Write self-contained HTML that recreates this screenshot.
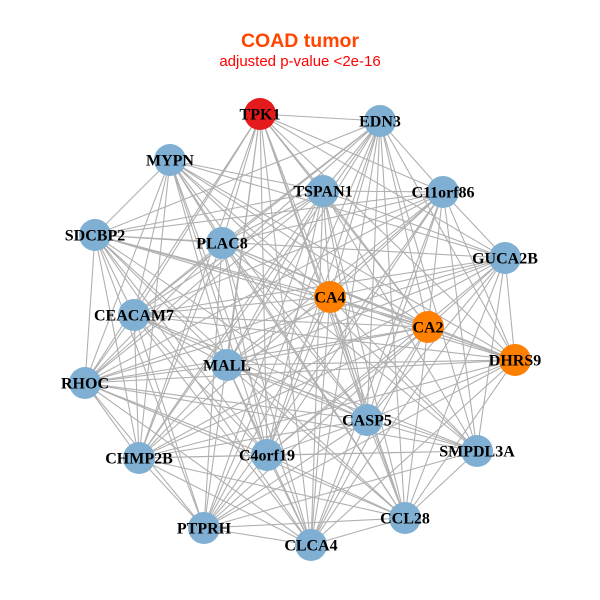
<!DOCTYPE html>
<html><head><meta charset="utf-8"><style>
html,body{margin:0;padding:0;background:#fff;}
svg{display:block;}
.l{font-family:"Liberation Serif",serif;font-weight:bold;font-size:16px;fill:#000;text-anchor:middle;}
</style></head><body>
<svg width="600" height="600" viewBox="0 0 600 600" xmlns="http://www.w3.org/2000/svg">
<rect width="600" height="600" fill="#fff"/>
<text x="300" y="47" text-anchor="middle" font-family="Liberation Sans, sans-serif" font-weight="bold" font-size="19.5" fill="#ff4500">COAD tumor</text>
<text x="300" y="66" text-anchor="middle" font-family="Liberation Sans, sans-serif" font-size="15" fill="#ff0000">adjusted p-value &lt;2e-16</text>
<g stroke="#b0b0b0" stroke-width="1.1" fill="none">
<path d="M260 114L380 121M260 114L323 191M260 114L443 192M260 114L222 243M260 114L505 258M260 114L330 297M260 114L134 315M260 114L515 360M260 114L227 365M260 114L85 383M260 114L367 420M260 114L139 458M260 114L267 455M260 114L405 518M260 114L204 528"/>
<path d="M380 121L323 191M380 121L443 192M380 121L95 235M380 121L222 243M380 121L330 297M380 121L134 315M380 121L428 327M380 121L515 360M380 121L85 383M380 121L367 420M380 121L477 451M380 121L139 458M380 121L405 518M380 121L204 528M380 121L311 545"/>
<path d="M170 160L323 191M170 160L95 235M170 160L222 243M170 160L505 258M170 160L330 297M170 160L428 327M170 160L515 360M170 160L227 365M170 160L85 383M170 160L477 451M170 160L139 458M170 160L267 455M170 160L405 518M170 160L311 545"/>
<path d="M323 191L443 192M323 191L95 235M323 191L505 258M323 191L330 297M323 191L134 315M323 191L428 327M323 191L227 365M323 191L85 383M323 191L367 420M323 191L477 451M323 191L267 455M323 191L405 518M323 191L204 528M323 191L311 545"/>
<path d="M443 192L95 235M443 192L222 243M443 192L505 258M443 192L134 315M443 192L428 327M443 192L515 360M443 192L227 365M443 192L367 420M443 192L477 451M443 192L139 458M443 192L267 455M443 192L204 528M443 192L311 545"/>
<path d="M95 235L222 243M95 235L505 258M95 235L330 297M95 235L134 315M95 235L515 360M95 235L227 365M95 235L85 383M95 235L367 420M95 235L139 458M95 235L267 455M95 235L405 518M95 235L204 528"/>
<path d="M222 243L330 297M222 243L134 315M222 243L428 327M222 243L515 360M222 243L85 383M222 243L367 420M222 243L477 451M222 243L139 458M222 243L405 518M222 243L204 528M222 243L311 545"/>
<path d="M505 258L330 297M505 258L428 327M505 258L515 360M505 258L227 365M505 258L85 383M505 258L477 451M505 258L139 458M505 258L267 455M505 258L405 518M505 258L311 545"/>
<path d="M330 297L134 315M330 297L428 327M330 297L227 365M330 297L85 383M330 297L367 420M330 297L477 451M330 297L267 455M330 297L405 518M330 297L204 528M330 297L311 545"/>
<path d="M134 315L428 327M134 315L515 360M134 315L227 365M134 315L367 420M134 315L477 451M134 315L139 458M134 315L267 455M134 315L204 528M134 315L311 545"/>
<path d="M428 327L515 360M428 327L227 365M428 327L85 383M428 327L367 420M428 327L139 458M428 327L267 455M428 327L405 518M428 327L204 528"/>
<path d="M515 360L85 383M515 360L367 420M515 360L139 458M515 360L405 518M515 360L204 528M515 360L311 545"/>
<path d="M227 365L85 383M227 365L477 451M227 365L139 458M227 365L267 455M227 365L405 518M227 365L311 545"/>
<path d="M85 383L367 420M85 383L477 451M85 383L139 458M85 383L267 455M85 383L405 518M85 383L204 528M85 383L311 545"/>
<path d="M367 420L477 451M367 420L139 458M367 420L267 455M367 420L204 528M367 420L311 545"/>
<path d="M477 451L139 458M477 451L267 455M477 451L405 518M477 451L204 528"/>
<path d="M139 458L405 518M139 458L204 528M139 458L311 545"/>
<path d="M267 455L405 518M267 455L311 545"/>
<path d="M405 518L204 528M405 518L311 545M204 528L311 545"/>
<path d="M260 114L428 327M260 114L311 545M380 121L227 365M380 121L267 455M170 160L134 315M170 160L367 420M323 191L222 243M323 191L139 458M443 192L330 297M443 192L85 383M95 235L428 327M95 235L311 545M222 243L267 455M505 258L134 315M505 258L367 420M330 297L515 360M134 315L85 383M428 327L311 545M515 360L227 365M227 365L367 420M367 420L405 518M139 458L267 455M267 455L204 528"/>
</g>
<g stroke="none">
<circle cx="260" cy="114" r="16" fill="#e41a1c"/>
<circle cx="380" cy="121" r="16" fill="#7fb0d3"/>
<circle cx="170" cy="160" r="16" fill="#7fb0d3"/>
<circle cx="323" cy="191" r="16" fill="#7fb0d3"/>
<circle cx="443" cy="192" r="16" fill="#7fb0d3"/>
<circle cx="95" cy="235" r="16" fill="#7fb0d3"/>
<circle cx="222" cy="243" r="16" fill="#7fb0d3"/>
<circle cx="505" cy="258" r="16" fill="#7fb0d3"/>
<circle cx="330" cy="297" r="16" fill="#ff7f00"/>
<circle cx="134" cy="315" r="16" fill="#7fb0d3"/>
<circle cx="428" cy="327" r="16" fill="#ff7f00"/>
<circle cx="515" cy="360" r="16" fill="#ff7f00"/>
<circle cx="227" cy="365" r="16" fill="#7fb0d3"/>
<circle cx="85" cy="383" r="16" fill="#7fb0d3"/>
<circle cx="367" cy="420" r="16" fill="#7fb0d3"/>
<circle cx="477" cy="451" r="16" fill="#7fb0d3"/>
<circle cx="139" cy="458" r="16" fill="#7fb0d3"/>
<circle cx="267" cy="455" r="16" fill="#7fb0d3"/>
<circle cx="405" cy="518" r="16" fill="#7fb0d3"/>
<circle cx="204" cy="528" r="16" fill="#7fb0d3"/>
<circle cx="311" cy="545" r="16" fill="#7fb0d3"/>
</g>
<g>
<text class="l" x="260" y="119.5">TPK1</text>
<text class="l" x="380" y="126.5">EDN3</text>
<text class="l" x="170" y="165.5">MYPN</text>
<text class="l" x="323" y="196.5">TSPAN1</text>
<text class="l" x="443" y="197.5">C11orf86</text>
<text class="l" x="95" y="240.5">SDCBP2</text>
<text class="l" x="222" y="248.5">PLAC8</text>
<text class="l" x="505" y="263.5">GUCA2B</text>
<text class="l" x="330" y="302.5">CA4</text>
<text class="l" x="134" y="320.5">CEACAM7</text>
<text class="l" x="428" y="332.5">CA2</text>
<text class="l" x="515" y="365.5">DHRS9</text>
<text class="l" x="227" y="370.5">MALL</text>
<text class="l" x="85" y="388.5">RHOC</text>
<text class="l" x="367" y="425.5">CASP5</text>
<text class="l" x="477" y="456.5">SMPDL3A</text>
<text class="l" x="139" y="463.5">CHMP2B</text>
<text class="l" x="267" y="460.5">C4orf19</text>
<text class="l" x="405" y="523.5">CCL28</text>
<text class="l" x="204" y="533.5">PTPRH</text>
<text class="l" x="311" y="550.5">CLCA4</text>
</g>
</svg>
</body></html>
